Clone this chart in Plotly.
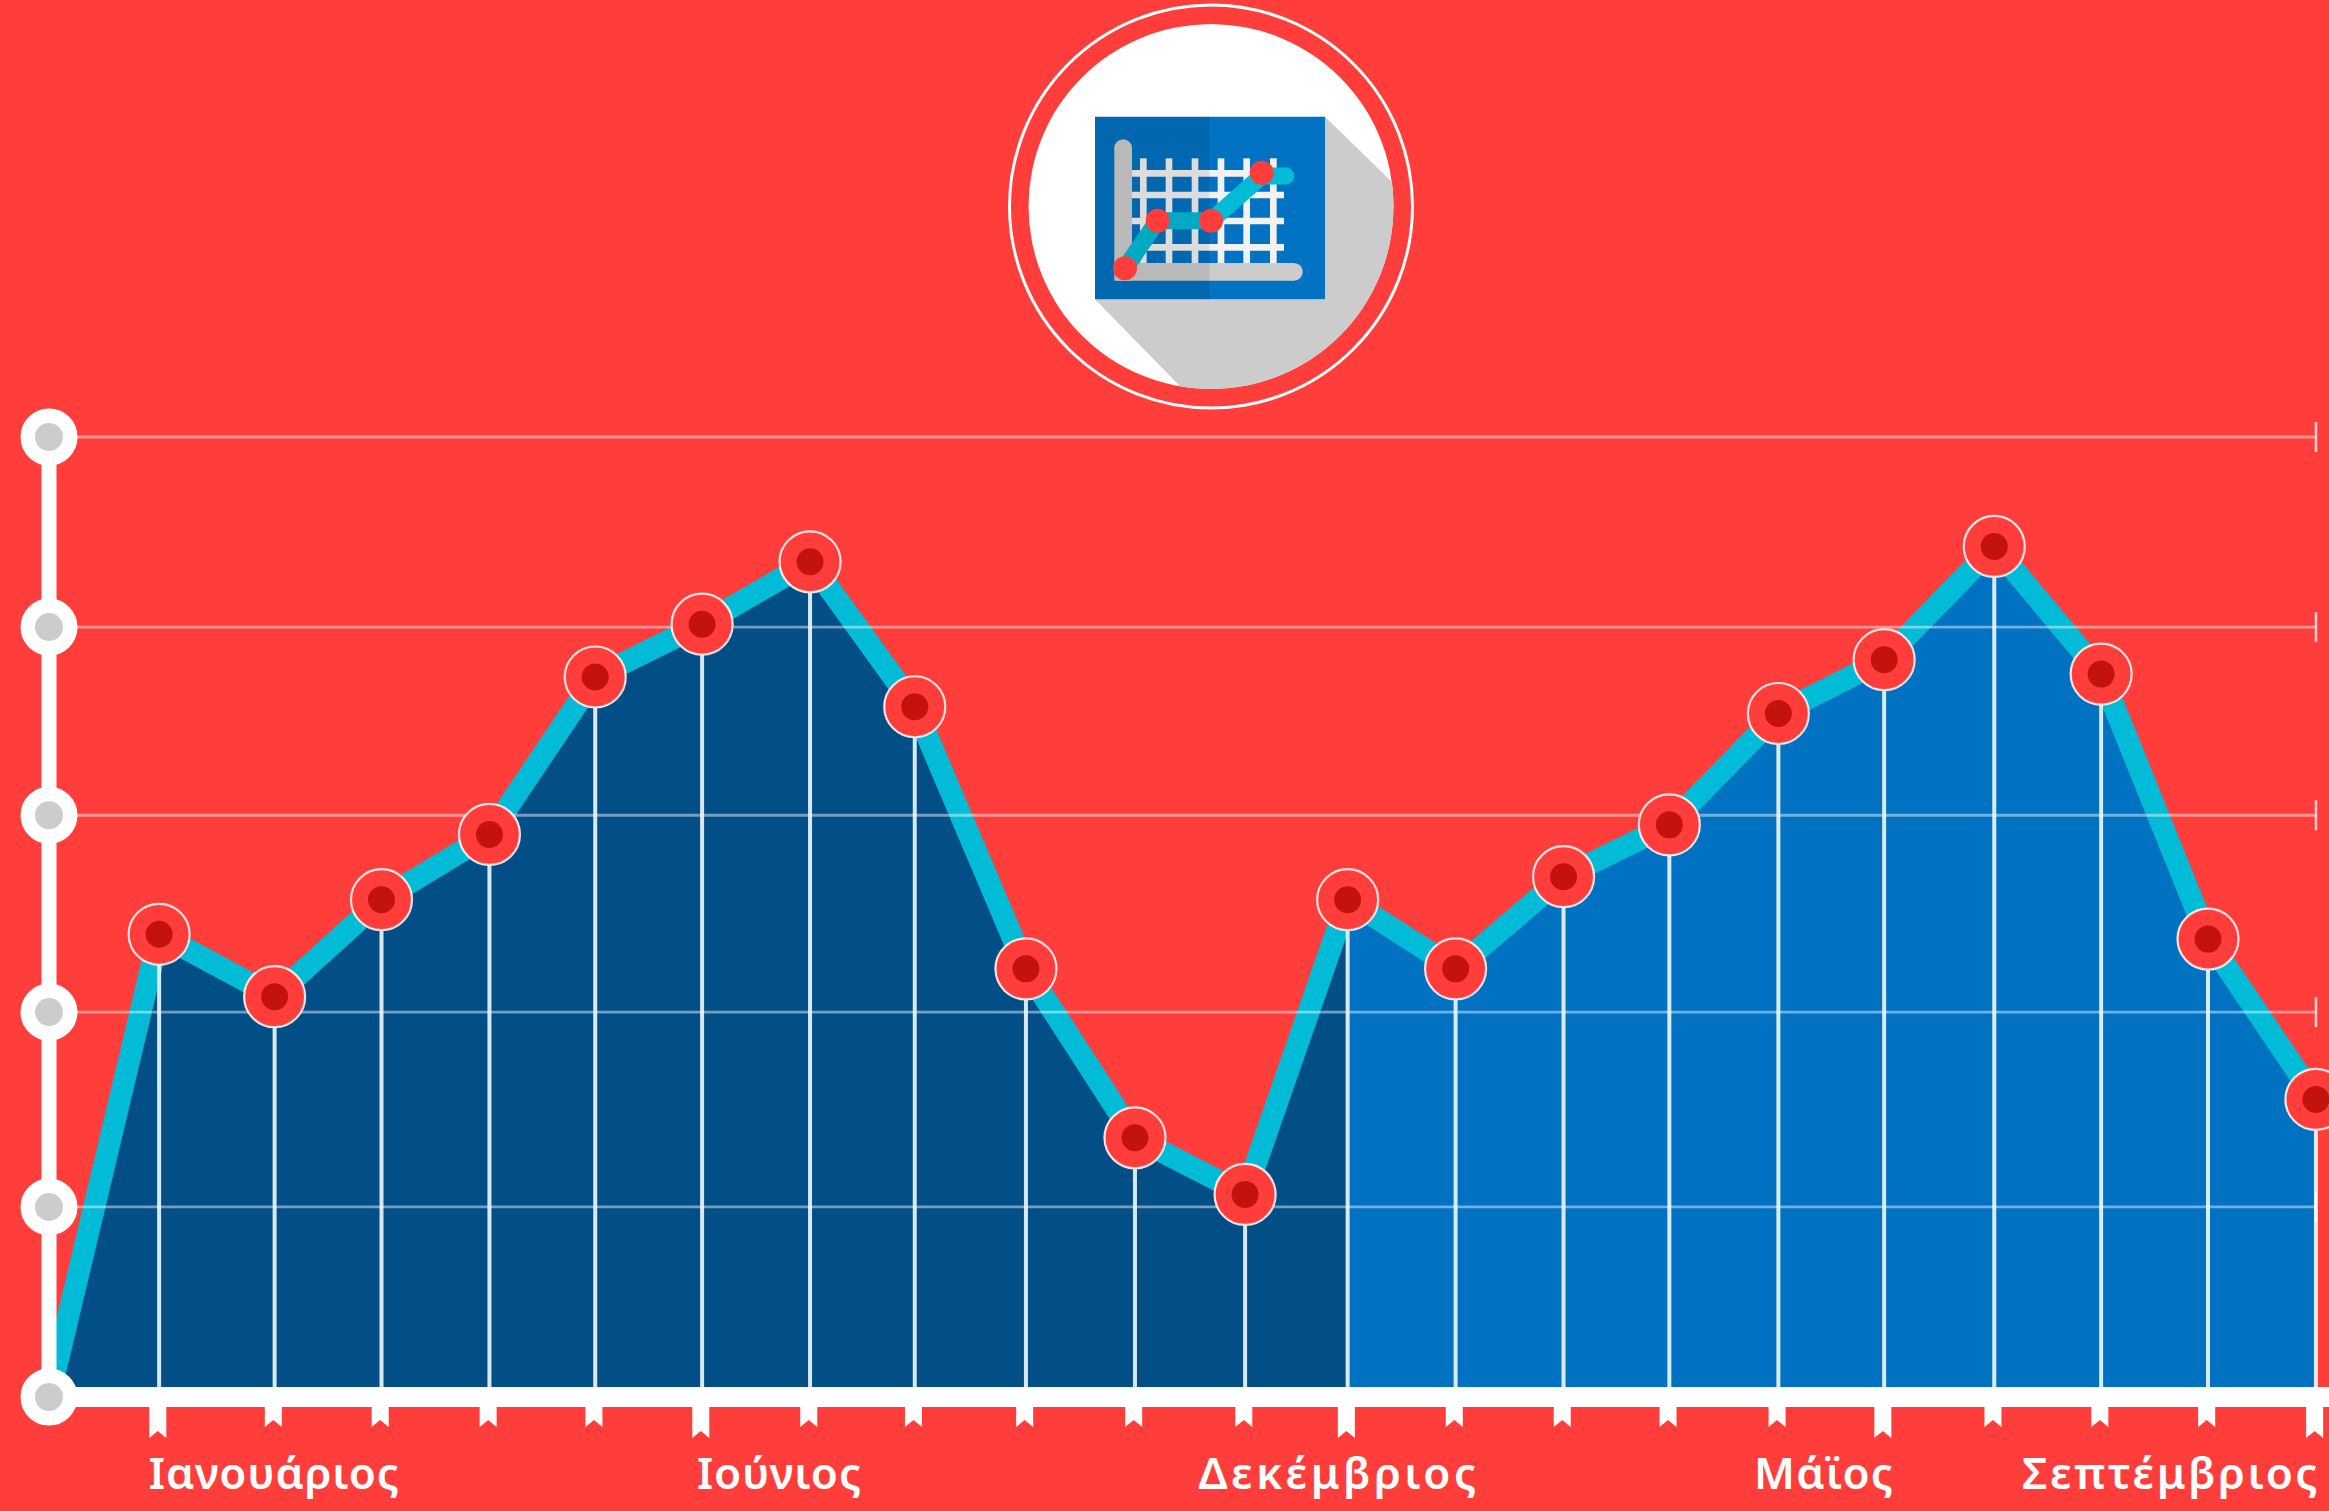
import numpy as np
import plotly.graph_objects as go

# ---- data ----
month_pos = [0, 1.02, 2.09, 3.08, 4.08, 5.06, 6.05, 7.05, 8.02, 9.05, 10.06, 11.08,
             12.03, 13.03, 14.03, 15.01, 16.02, 17.0, 18.02, 19.01, 20.0, 21.0]
values = [0, 48.2, 41.7, 51.8, 58.6, 75.0, 80.5, 87.0, 71.9, 44.6, 27.0, 21.1,
          51.8, 44.6, 54.2, 59.6, 71.2, 76.8, 88.6, 75.3, 47.7, 31.0]
grid_values = [100, 80.2, 60.6, 40.1, 19.8, 0]
split_index = 12
long_ticks = [1, 6, 12, 17, 21]
label_names = ["Ιανουάριος", "Ιούνιος", "Δεκέμβριος", "Μάϊος", "Σεπτέμβριος"]
label_pos = [2.09, 6.77, 11.95, 16.44, 19.66]

# ---- style ----
W, H = 2329, 1511
BG = "#ff3d3b"; DARK = "#024f87"; BLUE = "#0171c2"; CYAN = "#02bbd6"
X0, XU = 49.0, 107.95      # left axis pixel, pixels per month
Y0, YU = 1397.0, 9.6       # baseline pixel, pixels per value unit
LABEL_WIDTHS = [251, 165, 281, 140, 298]

fig = go.Figure()
skip = dict(mode="lines", hoverinfo="skip", showlegend=False)

fig.add_trace(go.Scatter(x=month_pos[:split_index + 1], y=values[:split_index + 1], fill="tozeroy",
                         fillcolor=DARK, line=dict(width=0), **skip))
fig.add_trace(go.Scatter(x=month_pos[split_index:], y=values[split_index:], fill="tozeroy",
                         fillcolor=BLUE, line=dict(width=0), **skip))
fig.add_trace(go.Scatter(x=month_pos, y=values, line=dict(color=CYAN, width=22), **skip))

# horizontal grid
hx, hy = [], []
for g in grid_values[:-1]:
    hx += [0, month_pos[-1], None]; hy += [g, g, None]
fig.add_trace(go.Scatter(x=hx, y=hy, line=dict(color="rgba(255,255,255,0.45)", width=2.8), **skip))

# vertical droplines
vx, vy = [], []
for xv, yv in zip(month_pos[1:], values[1:]):
    vx += [xv, xv, None]; vy += [0, yv, None]
fig.add_trace(go.Scatter(x=vx, y=vy, line=dict(color="rgba(240,248,252,0.9)", width=4), **skip))

# axes
fig.add_trace(go.Scatter(x=[0, 0], y=[0, 100], line=dict(color="white", width=15), **skip))
fig.add_trace(go.Scatter(x=[0, 23], y=[0, 0], line=dict(color="white", width=20), **skip))
fig.add_trace(go.Scatter(x=[0] * len(grid_values), y=grid_values, mode="markers", hoverinfo="skip", showlegend=False,
                         marker=dict(size=42.5, color="#cccccc", line=dict(color="white", width=14.5))))

# value markers
fig.add_trace(go.Scatter(x=month_pos[1:], y=values[1:], mode="markers", hoverinfo="skip", showlegend=False,
                         marker=dict(size=61, color=BG, line=dict(color="rgba(255,235,235,0.95)", width=2.2))))
fig.add_trace(go.Scatter(x=month_pos[1:], y=values[1:], mode="markers", hoverinfo="skip", showlegend=False,
                         marker=dict(size=27, color="#c4120f", line=dict(width=0))))

shapes = []
# right-hand grid end ticks
for g in grid_values[:-1]:
    shapes.append(dict(type="line", xref="x", yref="y", ysizemode="pixel", yanchor=g, y0=-15, y1=15,
                       x0=month_pos[-1], x1=month_pos[-1], line=dict(color="rgba(255,255,255,0.75)", width=2.5)))
# ribbon ticks under the axis
for i, xv in enumerate(month_pos[1:], start=1):
    low = -41 if i in long_ticks else -30
    path = f"M -8.5 -9 L 8.5 -9 L 8.5 {low} L 0 {low + 7} L -8.5 {low} Z"
    shapes.append(dict(type="path", xref="x", yref="y", xsizemode="pixel", ysizemode="pixel",
                       xanchor=xv - 0.012, yanchor=0, path=path, fillcolor="white", line=dict(width=0)))

# ---- icon (decoration, in page pixels) ----
def px(x): return x / W
def py(y): return 1 - y / H
ZX = lambda z: 980 + z / 3
ZY = lambda z: z / 3

def circle(cx, cy, r, fill=None, line=None, lw=0):
    return dict(type="circle", xref="paper", yref="paper", x0=px(cx - r), x1=px(cx + r), y0=py(cy + r), y1=py(cy - r),
                fillcolor=fill or "rgba(0,0,0,0)", line=dict(color=line or "rgba(0,0,0,0)", width=lw))

def rect(x0, y0, x1, y1, fill):
    return dict(type="rect", xref="paper", yref="paper", x0=px(x0), x1=px(x1), y0=py(y1), y1=py(y0),
                fillcolor=fill, line=dict(width=0))

def poly(pts, fill):
    d = "M " + " L ".join(f"{px(a):.5f} {py(b):.5f}" for a, b in pts) + " Z"
    return dict(type="path", xref="paper", yref="paper", path=d, fillcolor=fill, line=dict(width=0))

def seg(a, b, color, w):
    return dict(type="line", xref="paper", yref="paper", x0=px(a[0]), y0=py(a[1]), x1=px(b[0]), y1=py(b[1]),
                line=dict(color=color, width=w))

CX, CY, R = 1211.0, 206.5, 182.5
shapes.append(circle(CX, CY, 201.5, None, "white", 3))
shapes.append(circle(CX, CY, R, "white"))

# long shadow clipped by the disc
a1 = np.arctan2(ZY(545) - CY, ZX(1235) - CX)
a2 = np.arctan2(ZY(1160) - CY, ZX(600) - CX)
arc = [(CX + R * np.cos(t), CY + R * np.sin(t)) for t in np.linspace(a1, a2, 60)]
shapes.append(poly([(ZX(1035), ZY(350))] + arc + [(ZX(345), ZY(898)), (ZX(1035), ZY(898))], "#cccccc"))

shapes.append(rect(ZX(345), ZY(350), ZX(1035), ZY(898), "#0272c2"))
for z in [490, 567, 645, 723, 800, 880]:
    shapes.append(rect(ZX(z - 10), ZY(475), ZX(z + 10), ZY(795), "#f2f2f2"))
for z in [520, 585, 663, 742]:
    shapes.append(rect(ZX(455), ZY(z - 10), ZX(912), ZY(z + 10), "#f2f2f2"))
# icon axes with rounded ends
shapes.append(rect(ZX(403), ZY(444), ZX(456), ZY(842), "#cccccc"))
shapes.append(circle(ZX(429.5), ZY(444), 26.5 / 3, "#cccccc"))
shapes.append(rect(ZX(410), ZY(789), ZX(942), ZY(842), "#cccccc"))
shapes.append(circle(ZX(942), ZY(815.5), 26.5 / 3, "#cccccc"))
# icon polyline
ip = [(ZX(435), ZY(805)), (ZX(533), ZY(662)), (ZX(693), ZY(662)), (ZX(845), ZY(528)), (ZX(918), ZY(528))]
for a, b in zip(ip[:-1], ip[1:]):
    shapes.append(seg(a, b, "#02bbd6", 17))
shapes.append(circle(ZX(918), ZY(528), 8.5, "#02bbd6"))
# shaded left half
shapes.append(rect(ZX(345), ZY(350), ZX(688), ZY(898), "rgba(0,0,0,0.09)"))
for z in [(435, 805), (533, 662), (693, 662), (845, 518)]:
    shapes.append(circle(ZX(z[0]), ZY(z[1]), 12, "#ff3d3b"))

annotations = [dict(x=p, y=(Y0 - 1472) / YU, xref="x", yref="y", text=t, showarrow=False, xanchor="center",
                    yanchor="middle", font=dict(family="Noto Sans", size=44, color="white", weight=600))
               for t, p in zip(label_names, label_pos)]

fig.update_layout(
    width=W, height=H, margin=dict(l=0, r=0, t=0, b=0, pad=0),
    paper_bgcolor=BG, plot_bgcolor=BG, showlegend=False,
    xaxis=dict(visible=False, range=[-X0 / XU, (W - X0) / XU]),
    yaxis=dict(visible=False, range=[-(H - Y0) / YU, Y0 / YU]),
    shapes=shapes, annotations=annotations,
)
post = """
document.body.style.margin='0';document.body.style.overflow='hidden';
var targets=%s;
document.querySelectorAll('.annotation-text').forEach(function(el,i){
  var n=el.textContent.length, len=el.getComputedTextLength();
  el.style.letterSpacing=((targets[i]-len)/n).toFixed(2)+'px';
});
""" % LABEL_WIDTHS
fig.write_html("out.html", config=dict(displayModeBar=False), post_script=post)
